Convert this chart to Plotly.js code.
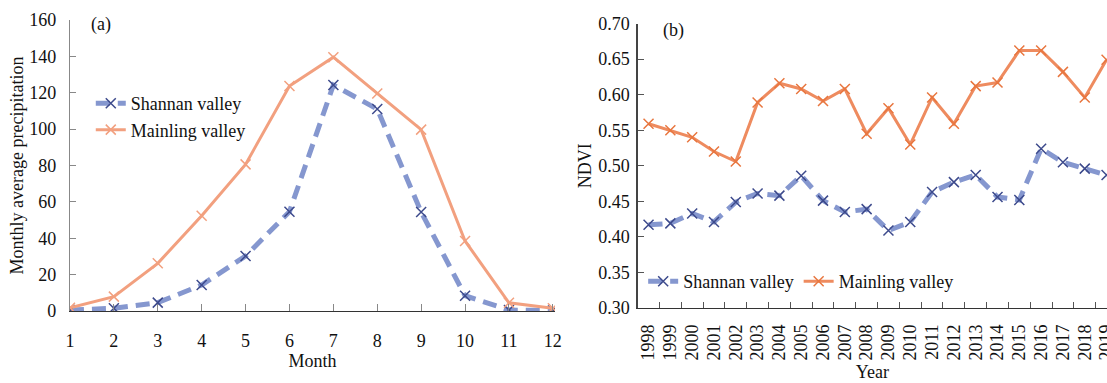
<!DOCTYPE html>
<html>
<head>
<meta charset="utf-8">
<script src="https://cdn.plot.ly/plotly-3.0.1.min.js"></script>
<style>html,body{margin:0;padding:0;background:#fff;}#chart{width:1107px;height:383px;}</style>
</head>
<body>
<div id="chart"></div>
<script>
// (a) monthly average precipitation
var months = [1, 2, 3, 4, 5, 6, 7, 8, 9, 10, 11, 12];
var shannanPrecip = [0.5, 1.5, 4.6, 14.3, 30.2, 54.6, 124.2, 111.0, 54.4, 8.4, 0.5, 0.3];
var mainlingPrecip = [1.8, 7.9, 26.2, 52.4, 80.6, 123.7, 139.5, 119.6, 99.7, 38.5, 4.5, 1.5];

// (b) NDVI by year
var years = ['1998','1999','2000','2001','2002','2003','2004','2005','2006','2007','2008',
             '2009','2010','2011','2012','2013','2014','2015','2016','2017','2018','2019'];
var shannanNDVI = [0.417, 0.419, 0.433, 0.421, 0.449, 0.461, 0.458, 0.486, 0.451, 0.435, 0.439,
                   0.409, 0.421, 0.463, 0.477, 0.487, 0.456, 0.452, 0.524, 0.505, 0.496, 0.487];
var mainlingNDVI = [0.559, 0.550, 0.540, 0.520, 0.506, 0.589, 0.616, 0.608, 0.591, 0.608, 0.545,
                    0.581, 0.530, 0.596, 0.559, 0.612, 0.617, 0.662, 0.662, 0.632, 0.596, 0.649];

var seriesNames = ['Shannan valley', 'Mainling valley'];
var precipTicks = [0, 20, 40, 60, 80, 100, 120, 140, 160];
var ndviTicks = [0.30, 0.35, 0.40, 0.45, 0.50, 0.55, 0.60, 0.65, 0.70];
var ndviTickText = ['0.30','0.35','0.40','0.45','0.50','0.55','0.60','0.65','0.70'];

var FONT = "'Liberation Serif', 'Times New Roman', serif";
var blueLine = '#8597cf', blueMark = '#3d4a8c';
var orangeLineA = '#f2a07f', orangeLineB = '#ee8b5f', orangeMark = '#e8763f';

var traces = [
  {x: months, y: shannanPrecip, name: seriesNames[0], type: 'scatter', mode: 'lines+markers',
   xaxis: 'x', yaxis: 'y', legend: 'legend',
   line: {color: blueLine, width: 5, dash: '14px,8px'},
   marker: {symbol: 'x-thin', size: 10, color: blueMark, line: {width: 1.5, color: blueMark}}},
  {x: months, y: mainlingPrecip, name: seriesNames[1], type: 'scatter', mode: 'lines+markers',
   xaxis: 'x', yaxis: 'y', legend: 'legend',
   line: {color: orangeLineA, width: 3},
   marker: {symbol: 'x-thin', size: 10, color: orangeLineA, line: {width: 1.5, color: orangeLineA}}},
  {x: years, y: shannanNDVI, name: seriesNames[0], type: 'scatter', mode: 'lines+markers',
   xaxis: 'x2', yaxis: 'y2', legend: 'legend2',
   line: {color: blueLine, width: 5, dash: '14px,8px'},
   marker: {symbol: 'x-thin', size: 10, color: blueMark, line: {width: 1.5, color: blueMark}}},
  {x: years, y: mainlingNDVI, name: seriesNames[1], type: 'scatter', mode: 'lines+markers',
   xaxis: 'x2', yaxis: 'y2', legend: 'legend2',
   line: {color: orangeLineB, width: 3},
   marker: {symbol: 'x-thin', size: 10, color: orangeMark, line: {width: 1.5, color: orangeMark}}}
];

var tickFont = {family: FONT, size: 18, color: '#111'};
var titleFont = {family: FONT, size: 18, color: '#111'};

var layout = {
  width: 1107, height: 383,
  margin: {l: 0, r: 0, t: 0, b: 0},
  paper_bgcolor: '#fff', plot_bgcolor: '#fff',
  font: {family: FONT, size: 18, color: '#111'},
  xaxis: {
    domain: [0.0632, 0.5014], range: [1, 12.05], anchor: 'y',
    tickmode: 'array', tickvals: months, ticktext: months.map(String),
    ticks: 'inside', ticklen: 7, tickcolor: '#888', tickwidth: 1,
    showline: true, linecolor: '#333', linewidth: 1.2,
    showgrid: false, zeroline: false,
    tickfont: tickFont, ticklabelstandoff: 13,
    title: {text: 'Month', font: titleFont, standoff: 0}
  },
  yaxis: {
    domain: [0.188, 0.948], range: [0, 160], anchor: 'x',
    tickmode: 'array', tickvals: precipTicks,
    ticks: 'inside', ticklen: 6, tickcolor: '#888', tickwidth: 1,
    showline: true, linecolor: '#888', linewidth: 1.2,
    showgrid: false, zeroline: false,
    tickfont: tickFont, ticklabelstandoff: 9,
    title: {text: 'Monthly average precipitation', font: titleFont}
  },
  xaxis2: {
    domain: [0.576, 1.0], type: 'category', range: [-0.5, 21.02], anchor: 'y2',
    categoryorder: 'array', categoryarray: years,
    tickmode: 'linear', tick0: 0, dtick: 1,
    tickson: 'boundaries', ticks: 'inside', ticklen: 6, tickcolor: '#555', tickwidth: 1,
    tickangle: -90,
    showline: true, linecolor: '#333', linewidth: 1.2,
    showgrid: false, zeroline: false,
    tickfont: tickFont, ticklabelstandoff: 8,
    title: {text: 'Year', font: titleFont}
  },
  yaxis2: {
    domain: [0.1958, 0.9386], range: [0.30, 0.70], anchor: 'x2',
    tickmode: 'array', tickvals: ndviTicks, ticktext: ndviTickText,
    ticks: 'inside', ticklen: 6, tickcolor: '#555', tickwidth: 1,
    showline: true, linecolor: '#444', linewidth: 1.2,
    showgrid: false, zeroline: false,
    tickfont: tickFont, ticklabelstandoff: 3,
    title: {text: 'NDVI', font: titleFont}
  },
  legend: {
    x: 0.082, y: 0.778, xanchor: 'left', yanchor: 'top',
    orientation: 'v', bgcolor: 'rgba(0,0,0,0)', borderwidth: 0,
    font: {family: FONT, size: 18, color: '#111'}, tracegroupgap: 0
  },
  legend2: {
    x: 0.581, y: 0.265, xanchor: 'left', yanchor: 'middle',
    orientation: 'h', bgcolor: 'rgba(0,0,0,0)', borderwidth: 0,
    font: {family: FONT, size: 18, color: '#111'}
  },
  annotations: [
    {xref: 'paper', yref: 'paper', x: 0.0912, y: 0.935, xanchor: 'center', yanchor: 'middle',
     text: '(a)', showarrow: false, font: {family: FONT, size: 18, color: '#111'}},
    {xref: 'paper', yref: 'paper', x: 0.608, y: 0.92, xanchor: 'center', yanchor: 'middle',
     text: '(b)', showarrow: false, font: {family: FONT, size: 18, color: '#111'}}
  ],
  showlegend: true
};

Plotly.newPlot('chart', traces, layout, {displayModeBar: false, staticPlot: true});
</script>
</body>
</html>
